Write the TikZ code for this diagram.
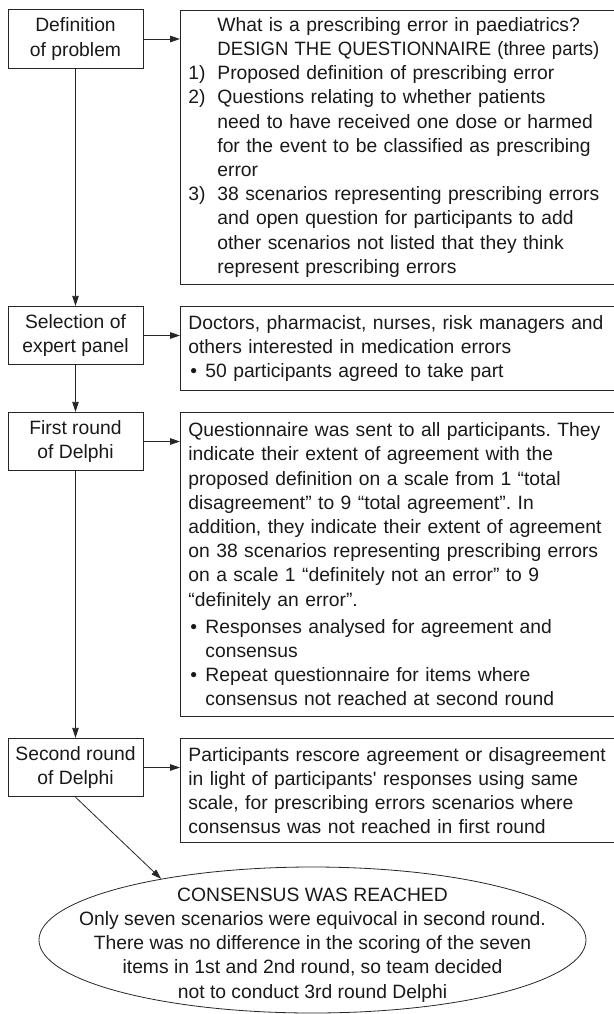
\documentclass[tikz,border=0pt]{standalone}
\usepackage{graphicx}
\usepackage{fontspec}
\setmainfont{Liberation Sans}
\usetikzlibrary{positioning,shapes.geometric,arrows.meta}
\frenchspacing

\begin{document}
\begin{tikzpicture}[x=1pt, y=-1pt,
        font=\fontsize{19.3}{24.2}\selectfont,
        stepbox/.style={rectangle, draw=black!85, line width=0.8pt, text=black!90,
            minimum width=135pt, minimum height=58.5pt, inner sep=0pt, align=center},
        infobox/.style={rectangle, draw=black!85, line width=0.8pt, text=black!90,
            anchor=north west, text width=440pt, inner xsep=8pt, inner ysep=0pt, align=left},
        arrow/.style={-{Triangle[length=10pt,width=6.5pt]}, line width=0.8pt, draw=black!85}
    ]
        \useasboundingbox (0,0) rectangle (613,1014);

        % Steps
        \node[stepbox] (def) at (75.5,39) {Definition\\of problem};
        \node[stepbox] (panel) at (75.5,335.5) {Selection of\\expert panel};
        \node[stepbox] (first) at (75.5,441.5) {First round\\of Delphi};
        \node[stepbox] (second) at (75.5,767.5) {Second round\\of Delphi};

        % Details
        \node[infobox, minimum height=274pt] (design) at (180,10) {%
            \hspace*{29pt}What is a prescribing error in paediatrics?\\
            \hspace*{29pt}\scalebox{0.96}[1]{DESIGN THE QUESTIONNAIRE (three parts)}\\
            \makebox[29pt][l]{1)}Proposed definition of prescribing error\\
            \makebox[29pt][l]{2)}Questions relating to whether patients\\
            \hspace*{29pt}need to have received one dose or harmed\\
            \hspace*{29pt}for the event to be classified as prescribing\\
            \hspace*{29pt}error\\
            \makebox[29pt][l]{3)}38 scenarios representing prescribing errors\\
            \hspace*{29pt}and open question for participants to add\\
            \hspace*{29pt}other scenarios not listed that they think\\
            \hspace*{29pt}represent prescribing errors};
        \node[infobox, minimum height=84pt] (experts) at (180,306) {%
            Doctors, pharmacist, nurses, risk managers and\\
            others interested in medication errors\\
            \hspace*{2pt}\makebox[15pt][l]{\textbullet}50 participants agreed to take part};
        \node[infobox, minimum height=304pt] (round1) at (180,412) {%
            Questionnaire was sent to all participants. They\\
            indicate their extent of agreement with the\\
            proposed definition on a scale from 1 “total\\
            disagreement” to 9 “total agreement”. In\\
            addition, they indicate their extent of agreement\\
            on 38 scenarios representing prescribing errors\\
            on a scale 1 “definitely not an error” to 9\\
            “definitely an error”.\\[3pt]
            \hspace*{2pt}\makebox[15pt][l]{\textbullet}Responses analysed for agreement and\\
            \hspace*{17pt}consensus\\
            \hspace*{2pt}\makebox[15pt][l]{\textbullet}Repeat questionnaire for items where\\
            \hspace*{17pt}consensus not reached at second round};
        \node[infobox, minimum height=104pt] (round2) at (180,738) {%
            Participants rescore agreement or disagreement\\
            in light of participants\textquotesingle\ responses using same\\
            scale, for prescribing errors scenarios where\\
            consensus was not reached in first round};

        % Outcome
        \node[ellipse, draw=black!85, line width=0.8pt, minimum width=547pt,
            minimum height=146pt, inner sep=0pt] (cons) at (312.5,940) {};
        \node[align=center, text=black!90] (constext) at (312.5,945) {%
            CONSENSUS WAS REACHED\\
            Only seven scenarios were equivocal in second round.\\
            There was no difference in the scoring of the seven\\
            items in 1st and 2nd round, so team decided\\
            not to conduct 3rd round Delphi};

        % Arrows
        \draw[arrow] (def.east) -- (def.east -| design.west);
        \draw[arrow] (panel.east) -- (panel.east -| experts.west);
        \draw[arrow] (first.east) -- (first.east -| round1.west);
        \draw[arrow] (second.east) -- (second.east -| round2.west);
        \draw[arrow] (def) -- (panel);
        \draw[arrow] (panel) -- (first);
        \draw[arrow] (first) -- (second);
        \draw[arrow] (second.south) -- (cons.158.8);
    \end{tikzpicture}
\end{document}
